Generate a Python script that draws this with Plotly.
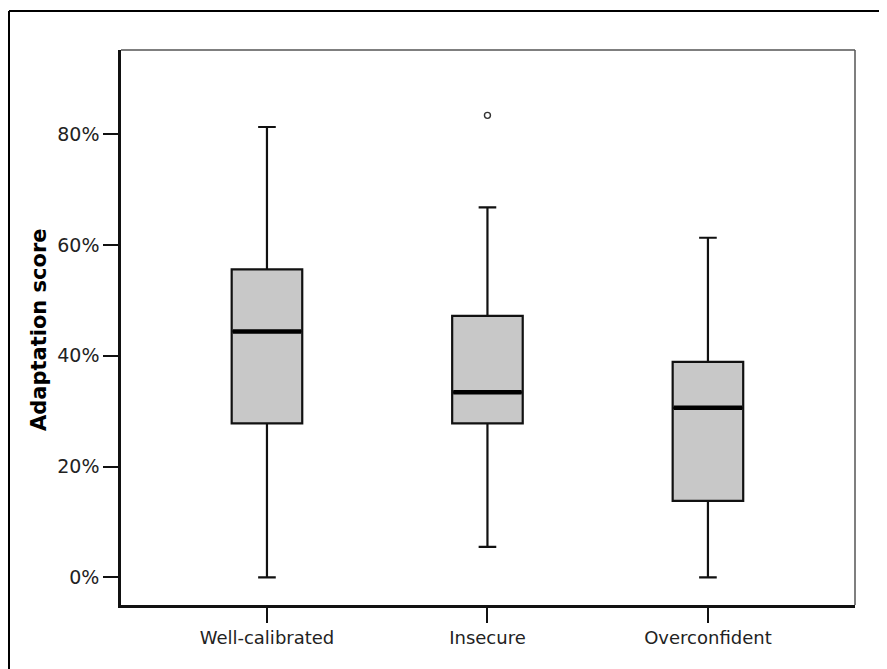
import plotly.graph_objects as go

categories = ["Well-calibrated", "Insecure", "Overconfident"]
positions = [0, 1, 2]
lower_whisker = [0.0, 5.5, 0.0]
q1 = [27.8, 27.8, 13.8]
median = [44.4, 33.4, 30.6]
q3 = [55.6, 47.2, 38.9]
upper_whisker = [81.3, 66.8, 61.3]
outlier_x = [1]
outlier_y = [83.4]
y_ticks = [0, 20, 40, 60, 80]
y_tick_labels = ["0%", "20%", "40%", "60%", "80%"]

BOX_W = 0.32

fig = go.Figure()
fig.add_trace(go.Box(
    x=positions, q1=q1, median=median, q3=q3,
    lowerfence=lower_whisker, upperfence=upper_whisker,
    width=BOX_W, whiskerwidth=0.25,
    fillcolor="#c8c8c8", line=dict(color="#111111", width=2.2),
    boxpoints=False, showlegend=False, hoverinfo="skip",
))
for xi, m in zip(positions, median):
    fig.add_trace(go.Scatter(
        x=[xi - BOX_W / 2 + 0.005, xi + BOX_W / 2 - 0.005], y=[m, m], mode="lines",
        line=dict(color="#000000", width=4.5), showlegend=False, hoverinfo="skip",
    ))
fig.add_trace(go.Scatter(
    x=outlier_x, y=outlier_y, mode="markers",
    marker=dict(symbol="circle-open", size=6, color="#333333", line=dict(width=1.4)),
    showlegend=False, hoverinfo="skip",
))

# page has an 8px body margin: target screenshot pixel p -> figure pixel p - 8
OFF = 8
W, H = 887 - OFF, 669 - OFF
L, T = 121 - OFF, 50 - OFF
R = W - (855 - OFF)
B = H - (605 - OFF)
pw, ph = W - L - R, H - T - B

def px(xs):
    return (xs - OFF - L) / pw

def py(ys):
    return (H - B - (ys - OFF)) / ph

fig.update_layout(
    width=W, height=H,
    margin=dict(l=L, r=R, t=T, b=B),
    paper_bgcolor="white", plot_bgcolor="white",
    font=dict(family="DejaVu Sans", color="#222222"),
    xaxis=dict(
        range=[-0.662, 2.667], tickvals=positions, ticktext=categories,
        showgrid=False, zeroline=False, showline=True, linecolor="#111111", linewidth=2.5,
        ticks="outside", ticklen=15, tickwidth=2, tickcolor="#111111",
        tickfont=dict(size=18, family="DejaVu Sans", color="#222222"),
    ),
    yaxis=dict(
        range=[-5.0, 95.2], tickvals=y_ticks, ticktext=y_tick_labels,
        showgrid=False, zeroline=False, showline=True, linecolor="#111111", linewidth=2.5,
        ticks="outside", ticklen=15, tickwidth=2, tickcolor="#111111",
        tickfont=dict(size=19, family="DejaVu Sans", color="#222222"),
    ),
    annotations=[dict(
        text="<b>Adaptation score</b>", textangle=-90, showarrow=False,
        xref="paper", yref="paper", x=px(39), y=py(330),
        xanchor="center", yanchor="middle",
        font=dict(size=21, family="DejaVu Sans", color="#000000"),
    )],
    shapes=[
        dict(type="line", xref="paper", yref="paper", x0=0, x1=1, y0=1, y1=1,
             line=dict(color="#555555", width=1.5), layer="below"),
        dict(type="line", xref="paper", yref="paper", x0=1, x1=1, y0=0, y1=1,
             line=dict(color="#555555", width=1.5), layer="below"),
        dict(type="line", xref="paper", yref="paper", x0=px(9), x1=px(900), y0=py(11), y1=py(11),
             line=dict(color="#000000", width=2)),
        dict(type="line", xref="paper", yref="paper", x0=px(9), x1=px(9), y0=py(11), y1=py(700),
             line=dict(color="#000000", width=2)),
    ],
)

fig.write_html("out.html")
